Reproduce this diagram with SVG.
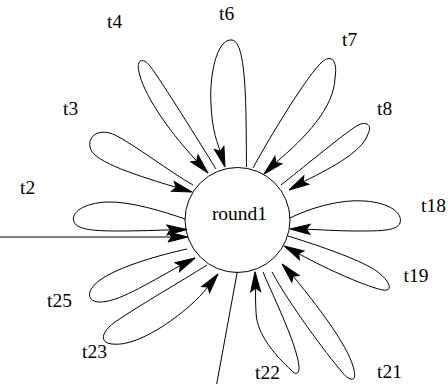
<svg xmlns="http://www.w3.org/2000/svg" xmlns:xlink="http://www.w3.org/1999/xlink" width="448" height="384" viewBox="0 0 448 384">
<style>
.e{fill:none;stroke:#000;stroke-width:1}
.a{fill:#000;stroke:#000;stroke-width:1}
.n{fill:#fff;stroke:#000;stroke-width:1}
.t{font-family:'Liberation Serif','Times New Roman',Times,serif;font-size:19.5px;fill:#000}
</style>
<defs>
<path id="ah" d="M0,0 L-20,-5 L-16.5,0 L-20,5 Z"/>
</defs>
<rect width="448" height="384" fill="#fff"/>
<g id="node-round1">
<circle class="n" cx="237.5" cy="220" r="52.5"/>
<text class="t" font-family="Liberation Serif, serif" x="239.5" y="220" text-anchor="middle">round1</text>
</g>
<g id="connectors">
<g id="e-t6"><path class="e" d="M246.5,167 C246,110 247,42 232,40 C217,38 209,75 211,105 C212,125 215,137 220,150.7"/><use href="#ah" class="a" transform="translate(225,167) rotate(73)"/></g>
<g id="e-t4"><path class="e" d="M216,169 C200,143 162,82 150,66 C143,57 136,59 139,72 C143,92 165,127 196.4,160.6"/><use href="#ah" class="a" transform="translate(208,173) rotate(47)"/></g>
<g id="e-t7"><path class="e" d="M253,168 C268,140 308,74 322,62 C331,54 338,60 335,78 C334,108 305,138 276.2,162.2"/><use href="#ah" class="a" transform="translate(264,174) rotate(136)"/></g>
<g id="e-t8"><path class="e" d="M281,185 C300,170 340,137 355,127 C365,120 373,124 368,134 C363,150 336,166 303.7,181.5"/><use href="#ah" class="a" transform="translate(289,190) rotate(150)"/></g>
<g id="e-t18"><path class="e" d="M290,218 C310,208 340,199 365,201 C390,203 403,213 400,223 C397,231 380,231 357,231 C335,231 320,229.5 307,229.3"/><use href="#ah" class="a" transform="translate(290,229) rotate(181)"/></g>
<g id="e-t19"><path class="e" d="M288,236 C320,246 358,259 375,270 C390,280 394,292 383,290 C370,288 328,270 299.1,253.9"/><use href="#ah" class="a" transform="translate(284,246) rotate(207.6)"/></g>
<g id="e-t21"><path class="e" d="M272,272 C290,305 325,352 342,372 C350,382 357,382 354,370 C350,350 325,315 293.5,276.6"/><use href="#ah" class="a" transform="translate(282,264) rotate(227.6)"/></g>
<g id="e-t22"><path class="e" d="M263,272 C275,300 293,337 298,360 C301,373 297,377 291,370 C276,356 260,338 256.5,318 C255.5,308 255.5,298 255.6,288.7"/><use href="#ah" class="a" transform="translate(255,271.7) rotate(268)"/></g>
<g id="e-t23"><path class="e" d="M207,265 C180,282 140,305 115,322 C100,333 100,343 112,344 C140,348 190,310 207.5,287.4"/><use href="#ah" class="a" transform="translate(218,274) rotate(308)"/></g>
<g id="e-t25"><path class="e" d="M187,249 C160,255 120,266 100,280 C85,291 87,302 100,302 C118,302 145,285 179.9,265.8"/><use href="#ah" class="a" transform="translate(195,258) rotate(332.7)"/></g>
<g id="e-t2"><path class="e" d="M185,219 C165,212 130,201 107,202 C85,203 70,212 74,222 C78,231 100,231 125,231 C140,231 155,230.3 170,229.9"/><use href="#ah" class="a" transform="translate(187,229.5) rotate(-1.3)"/></g>
<g id="e-t3"><path class="e" d="M193,185 C170,172 135,145 115,135 C100,128 88,135 90,147 C92,160 125,172 175.7,187.2"/><use href="#ah" class="a" transform="translate(192,192) rotate(16.3)"/></g>
<g id="e-in"><path class="e" d="M0,237 L172,237"/><use href="#ah" class="a" transform="translate(188,237)"/></g>
<g id="e-out"><path class="e" d="M237.3,271.7 L216.7,384"/></g>
</g>
<g id="labels" class="t" font-family="Liberation Serif, serif">
<text x="107" y="28">t4</text>
<text x="219" y="20">t6</text>
<text x="342" y="46">t7</text>
<text x="377" y="115">t8</text>
<text x="63" y="115">t3</text>
<text x="20" y="194">t2</text>
<text x="421" y="211.5">t18</text>
<text x="403.5" y="281.5">t19</text>
<text x="377" y="378">t21</text>
<text x="255" y="379">t22</text>
<text x="82" y="358">t23</text>
<text x="47" y="306.5">t25</text>
</g>
</svg>
